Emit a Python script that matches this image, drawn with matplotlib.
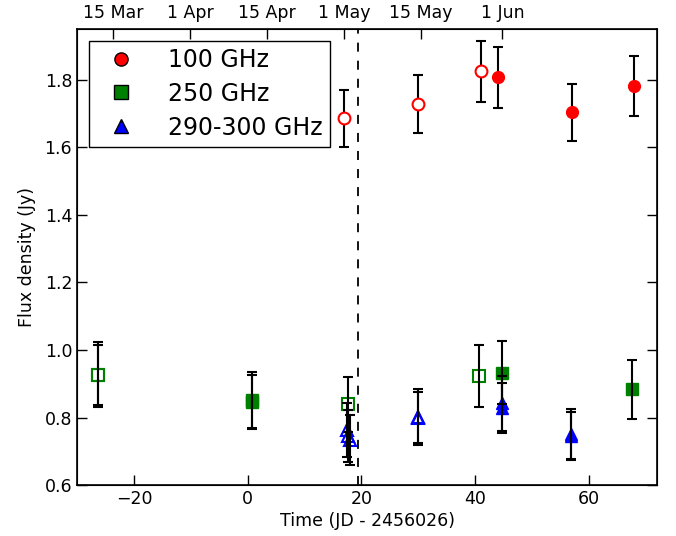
import matplotlib
matplotlib.use('Agg')
import matplotlib.pyplot as plt
from matplotlib.lines import Line2D

# 100 GHz
t100_open = [17.0, 30.0, 41.0]
f100_open = [1.686, 1.728, 1.825]
e100_open = [0.084, 0.086, 0.090]
t100_fill = [44.1, 57.0, 68.0]
f100_fill = [1.807, 1.703, 1.780]
e100_fill = [0.090, 0.085, 0.089]

# 250 GHz
t250_open = [-26.3, -26.3, 17.7, 40.7]
f250_open = [0.927, 0.926, 0.839, 0.923]
e250_open = [0.096, 0.089, 0.082, 0.092]
t250_fill = [0.7, 0.7, 44.7, 67.6]
f250_fill = [0.852, 0.846, 0.933, 0.884]
e250_fill = [0.083, 0.080, 0.093, 0.087]

# 290-300 GHz
t300_open = [17.5, 17.7, 18.0, 29.9, 29.9]
f300_open = [0.762, 0.745, 0.733, 0.801, 0.800]
e300_open = [0.080, 0.076, 0.075, 0.083, 0.076]
t300_fill = [44.8, 44.8, 56.8, 56.8]
f300_fill = [0.842, 0.827, 0.750, 0.745]
e300_fill = [0.081, 0.074, 0.074, 0.072]

date_pos = [-23.7, -10.1, 3.4, 16.9, 30.4, 44.8]
date_labels = ['15 Mar', '1 Apr', '15 Apr', '1 May', '15 May', '1 Jun']
t_event = 19.4

plt.rcParams['font.family'] = 'DejaVu Sans'
plt.rcParams['font.size'] = 12.5

fig = plt.figure(figsize=(6.76, 5.36), dpi=100)
ax = fig.add_axes([0.114, 0.095, 0.858, 0.851])

eb = dict(fmt='none', ecolor='k', elinewidth=1.5, capsize=3.5, capthick=1.5, zorder=2)
ax.errorbar(t100_open, f100_open, yerr=e100_open, **eb)
ax.errorbar(t100_fill, f100_fill, yerr=e100_fill, **eb)
ax.errorbar(t250_open, f250_open, yerr=e250_open, **eb)
ax.errorbar(t250_fill, f250_fill, yerr=e250_fill, **eb)
ax.errorbar(t300_open, f300_open, yerr=e300_open, **eb)
ax.errorbar(t300_fill, f300_fill, yerr=e300_fill, **eb)

ms = 8.5
ax.plot(t100_open, f100_open, 'o', ms=ms, mfc='white', mec='r', mew=1.5, ls='none', zorder=3)
ax.plot(t100_fill, f100_fill, 'o', ms=ms, mfc='r', mec='r', ls='none', zorder=3)
ax.plot(t250_open, f250_open, 's', ms=ms, mfc='none', mec='g', mew=1.5, ls='none', zorder=1)
ax.plot(t250_fill, f250_fill, 's', ms=ms, mfc='g', mec='g', ls='none', zorder=1)
ax.plot(t300_open, f300_open, '^', ms=ms, mfc='none', mec='b', mew=1.5, ls='none', zorder=1)
ax.plot(t300_fill, f300_fill, '^', ms=ms, mfc='b', mec='b', ls='none', zorder=1)

ax.axvline(t_event, color='k', ls='--', lw=1.3, dashes=(5, 5))

ax.set_xlim(-30, 72)
ax.set_ylim(0.6, 1.95)
ax.set_yticks([0.6, 0.8, 1.0, 1.2, 1.4, 1.6, 1.8])
ax.set_xticks([-20, 0, 20, 40, 60])
ax.set_xlabel('Time (JD - 2456026)', labelpad=3)
ax.set_ylabel('Flux density (Jy)', labelpad=6)
ax.tick_params(direction='in', length=7, width=1, right=True, top=False)
for s in ax.spines.values():
    s.set_linewidth(1.2)

ax2 = ax.twiny()
ax2.set_xlim(ax.get_xlim())
ax2.set_xticks(date_pos)
ax2.set_xticklabels(date_labels)
ax2.tick_params(direction='in', length=7, width=1, pad=5)

handles = [
    Line2D([], [], marker='o', color='r', mec='k', ls='none', ms=9.5),
    Line2D([], [], marker='s', color='g', mec='k', ls='none', ms=9.5),
    Line2D([], [], marker='^', color='b', mec='k', ls='none', ms=9.5),
]
leg = ax.legend(handles, ['100 GHz', '250 GHz', '290-300 GHz'], loc='upper left',
                fontsize=17, numpoints=1, fancybox=False, framealpha=1,
                borderaxespad=0.5, handletextpad=0.95, borderpad=0.3,
                handlelength=2.1, labelspacing=0.42)
leg.get_frame().set_edgecolor('k')
leg.get_frame().set_linewidth(1.0)

fig.savefig('out.png', dpi=100)
